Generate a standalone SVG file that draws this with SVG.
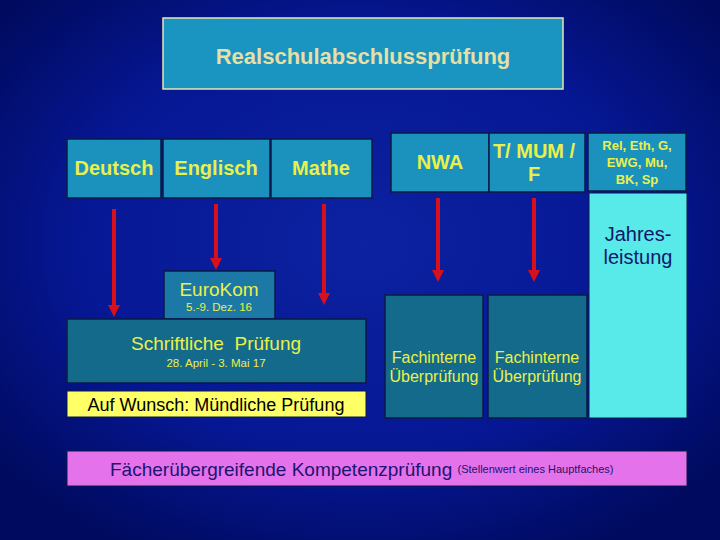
<svg xmlns="http://www.w3.org/2000/svg" width="720" height="540" viewBox="0 0 720 540">
<defs>
<radialGradient id="bg" cx="50%" cy="45%" r="65%">
<stop offset="0" stop-color="#0c22a0"/>
<stop offset="0.6" stop-color="#061794"/>
<stop offset="1" stop-color="#000a5e"/>
</radialGradient>
<marker id="ah" markerUnits="userSpaceOnUse" markerWidth="12" markerHeight="12" viewBox="0 0 12 12" refX="4" refY="6" orient="auto">
<path d="M0,0 L12,6 L0,12 Z" fill="#d8101c"/>
</marker>
<style>
text{font-family:"Liberation Sans",Arial,sans-serif;text-anchor:middle;dominant-baseline:central}
.subj{fill:#1a92bd;stroke:#0a1a48;stroke-width:1.5}
.dark{fill:#146a8a;stroke:#0a1a48;stroke-width:1.5}
.yb{font-weight:bold;fill:#eaf04a}
.yn{fill:#eaf04a}
.arr{stroke:#d8101c;stroke-width:4;fill:none}
</style>
</defs>
<rect width="720" height="540" fill="url(#bg)"/>

<g id="title">
<rect x="163" y="18" width="400" height="71" fill="#1a95c2" stroke="#e6e6b0" stroke-width="1.5"/>
<text x="363" y="56" font-size="22" font-weight="bold" fill="#e6dfa6">Realschulabschlussprüfung</text>
</g>

<g id="deutsch">
<rect class="subj" x="67" y="139" width="94" height="59"/>
<text class="yb" x="114" y="168" font-size="20">Deutsch</text>
</g>
<g id="englisch">
<rect class="subj" x="163" y="139" width="107" height="59"/>
<text class="yb" x="216" y="168" font-size="20">Englisch</text>
</g>
<g id="mathe">
<rect class="subj" x="271" y="139" width="101" height="59"/>
<text class="yb" x="321" y="168" font-size="20">Mathe</text>
</g>
<g id="nwa">
<rect class="subj" x="391" y="133" width="98" height="59"/>
<text class="yb" x="440" y="162" font-size="20">NWA</text>
</g>
<g id="tmum">
<rect class="subj" x="489" y="133" width="96" height="59"/>
<text class="yb" x="534" y="151" font-size="20">T/ MUM /</text>
<text class="yb" x="534" y="174" font-size="20">F</text>
</g>
<g id="rel">
<rect class="subj" x="588" y="133" width="98" height="58"/>
<text class="yb" x="637" y="145" font-size="13">Rel, Eth, G,</text>
<text class="yb" x="637" y="162" font-size="13">EWG, Mu,</text>
<text class="yb" x="637" y="179" font-size="13">BK, Sp</text>
</g>
<g id="jahresleistung">
<rect x="589" y="193" width="98" height="225" fill="#58e9e9" stroke="#0a1a48" stroke-width="1"/>
<text x="638" y="234" font-size="20" fill="#14166a">Jahres-</text>
<text x="638" y="257" font-size="20" fill="#14166a">leistung</text>
</g>

<g id="eurokom">
<rect x="164" y="271" width="111" height="48" fill="#1c79a6" stroke="#0a1a48" stroke-width="1.5"/>
<text class="yn" x="219" y="289" font-size="19">EuroKom</text>
<text class="yn" x="219" y="307" font-size="11.5">5.-9. Dez. 16</text>
</g>
<g id="schriftlich">
<rect class="dark" x="67" y="319" width="299" height="64"/>
<text class="yn" x="216" y="343" font-size="19" style="white-space:pre">Schriftliche  Prüfung</text>
<text class="yn" x="216" y="363" font-size="11.5">28. April - 3. Mai 17</text>
</g>
<g id="muendlich">
<rect x="67" y="391" width="299" height="26" fill="#ffff66" stroke="#0a1a48" stroke-width="1"/>
<text x="216" y="405" font-size="18" fill="#000000">Auf Wunsch: Mündliche Prüfung</text>
</g>
<g id="fach1">
<rect class="dark" x="385" y="295" width="98" height="123"/>
<text class="yn" x="434" y="357" font-size="16">Fachinterne</text>
<text class="yn" x="434" y="376" font-size="16">Überprüfung</text>
</g>
<g id="fach2">
<rect class="dark" x="488" y="295" width="99" height="123"/>
<text class="yn" x="537" y="357" font-size="16">Fachinterne</text>
<text class="yn" x="537" y="376" font-size="16">Überprüfung</text>
</g>
<g id="kompetenz">
<rect x="67" y="451" width="620" height="35" fill="#e472ea" stroke="#0a1a48" stroke-width="1"/>
<text x="110" y="469" font-size="19" fill="#1c1470" style="text-anchor:start">Fächerübergreifende Kompetenzprüfung <tspan font-size="11">(Stellenwert eines Hauptfaches)</tspan></text>
</g>

<g id="connectors">
<line class="arr" x1="114" y1="209" x2="114" y2="309" marker-end="url(#ah)"/>
<line class="arr" x1="216" y1="204" x2="216" y2="262" marker-end="url(#ah)"/>
<line class="arr" x1="324" y1="204" x2="324" y2="297" marker-end="url(#ah)"/>
<line class="arr" x1="438" y1="198" x2="438" y2="274" marker-end="url(#ah)"/>
<line class="arr" x1="534" y1="198" x2="534" y2="274" marker-end="url(#ah)"/>
</g>
</svg>
